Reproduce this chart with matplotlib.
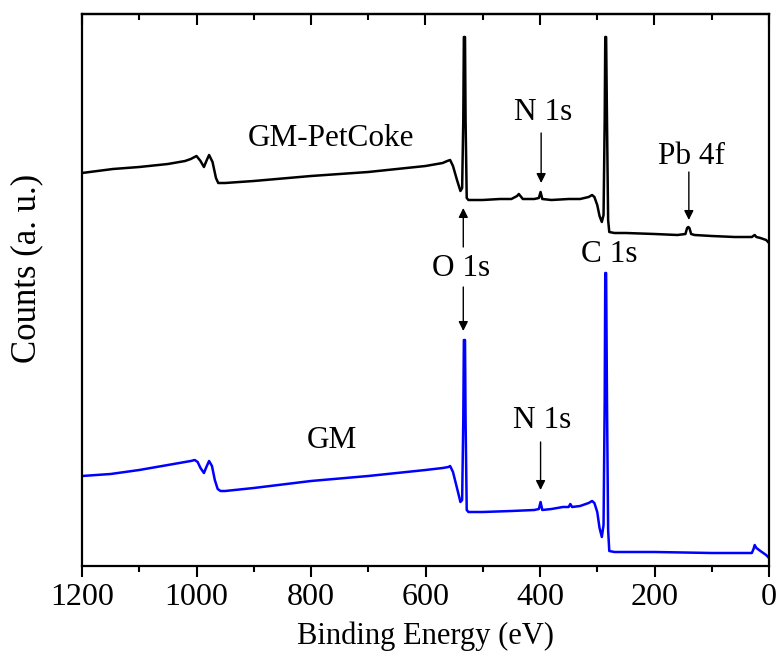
import matplotlib
matplotlib.use("Agg")
import matplotlib.pyplot as plt
from matplotlib.ticker import MultipleLocator, NullLocator

plt.rcParams['font.family'] = ['Liberation Serif', 'DejaVu Serif']
plt.rcParams['mathtext.fontset'] = 'stix'

# GM-PetCoke spectrum (binding energy eV, counts a.u.)
petcoke_energy = [1200, 1146, 1100, 1050, 1020, 1010, 1000, 993, 987, 982, 978, 972, 966, 962,
                  950, 900, 800, 700, 600, 570, 562, 557, 552, 545, 539, 536, 534, 533, 531, 530,
                  528, 525, 500, 470, 450, 440, 437, 430, 410, 402, 399, 396, 380, 350, 330, 315,
                  309, 305, 300, 296, 292, 289, 287, 286, 284.5, 283, 281, 279, 270, 250, 200, 160,
                  146, 143, 141, 139, 136, 130, 100, 60, 30, 25, 22, 15, 5, 0]
petcoke_counts = [393, 397, 399, 402, 405, 407, 410, 405, 399, 406, 411, 404, 388, 383,
                  383, 385, 390, 394, 400, 403, 405, 406, 400, 386, 375, 378, 446, 529, 529, 446,
                  368, 366, 366, 367, 367, 370, 372, 367, 367, 368, 374, 367, 366, 367, 367, 369,
                  371, 369, 361, 350, 344, 351, 446, 529, 529, 446, 346, 334, 333, 333, 332, 331,
                  332, 338, 339, 338, 332, 331, 330, 329, 329, 331, 329, 328, 326, 323]

# GM spectrum
gm_energy = [1200, 1150, 1100, 1050, 1020, 1010, 1003, 998, 993, 987, 982, 978, 973, 968, 963,
             958, 950, 900, 800, 700, 600, 570, 560, 557, 552, 545, 539, 536, 534, 533, 531, 530,
             528, 525, 500, 450, 410, 402, 399, 396, 380, 360, 350, 347, 344, 330, 315, 309, 305,
             300, 296, 292, 289, 287, 286, 284.5, 283, 281, 279, 270, 200, 100, 50, 30, 27, 25,
             22, 15, 5, 0]
gm_counts = [90, 92, 96, 101, 104, 105, 106, 104, 98, 93, 100, 105, 100, 86, 77,
             75, 75, 78, 85, 90, 96, 98, 99, 100, 94, 78, 64, 66, 146, 226, 226, 146,
             56, 54, 54, 55, 56, 57, 64, 56, 57, 59, 59, 62, 59, 60, 63, 65, 63,
             54, 38, 29, 41, 166, 293, 293, 166, 36, 15, 14, 14, 13, 13, 13, 17, 21,
             18, 15, 11, 8]

fig = plt.figure(figsize=(7.79, 6.64), dpi=100)
ax = fig.add_axes([82/779, 1-566/664, (769-82)/779, (566-14)/664])

ax.plot(petcoke_energy, petcoke_counts, color='black', lw=1.8, solid_joinstyle='round')
ax.plot(gm_energy, gm_counts, color='#0000ff', lw=1.8, solid_joinstyle='round')

ax.set_xlim(1200, 0)
ax.set_ylim(0, 552)

ax.xaxis.set_major_locator(MultipleLocator(200))
ax.xaxis.set_minor_locator(MultipleLocator(100))
ax.yaxis.set_major_locator(NullLocator())
ax.tick_params(axis='x', which='both', direction='out', top=False, bottom=True, width=1.5, labelsize=23, pad=4)
ax.tick_params(axis='x', which='major', length=8)
ax.tick_params(axis='x', which='minor', length=4)
# top ticks pointing inward
secx = ax.secondary_xaxis('top')
secx.xaxis.set_major_locator(MultipleLocator(200))
secx.xaxis.set_minor_locator(MultipleLocator(100))
secx.tick_params(axis='x', which='both', direction='in', width=1.5, labeltop=False)
secx.tick_params(axis='x', which='major', length=8)
secx.tick_params(axis='x', which='minor', length=4)
secx.spines['top'].set_linewidth(1.6)

for s in ax.spines.values():
    s.set_linewidth(1.6)

ax.set_xlabel('Binding Energy (eV)', fontsize=22, labelpad=7)
ax.set_ylabel('Counts (a. u.)', fontsize=25)
ax.yaxis.set_label_coords(-(82-27)/687, (566-268)/552)
ax.yaxis.label.set_va('center')

fs = 22.5
ax.text(765, 428, 'GM-PetCoke', fontsize=fs, ha='center', va='center')
ax.text(763, 126, 'GM', fontsize=fs, ha='center', va='center')
ax.text(395, 454, 'N 1s', fontsize=fs, ha='center', va='center')
ax.text(136, 409, 'Pb 4f', fontsize=fs, ha='center', va='center')
ax.text(538, 298, 'O 1s', fontsize=fs, ha='center', va='center')
ax.text(279, 311, 'C 1s', fontsize=fs, ha='center', va='center')
ax.text(396, 146, 'N 1s', fontsize=fs, ha='center', va='center')

arrowprops = dict(arrowstyle='-|>', color='black', lw=1.0, mutation_scale=14, shrinkA=0, shrinkB=0)
ax.annotate('', xy=(398, 383), xytext=(398, 433), arrowprops=arrowprops)
ax.annotate('', xy=(140, 346), xytext=(140, 394), arrowprops=arrowprops)
ax.annotate('', xy=(534, 358), xytext=(534, 319), arrowprops=arrowprops)
ax.annotate('', xy=(534, 235), xytext=(534, 279), arrowprops=arrowprops)
ax.annotate('', xy=(399, 76), xytext=(399, 124), arrowprops=arrowprops)

fig.savefig('out.png', dpi=100)
